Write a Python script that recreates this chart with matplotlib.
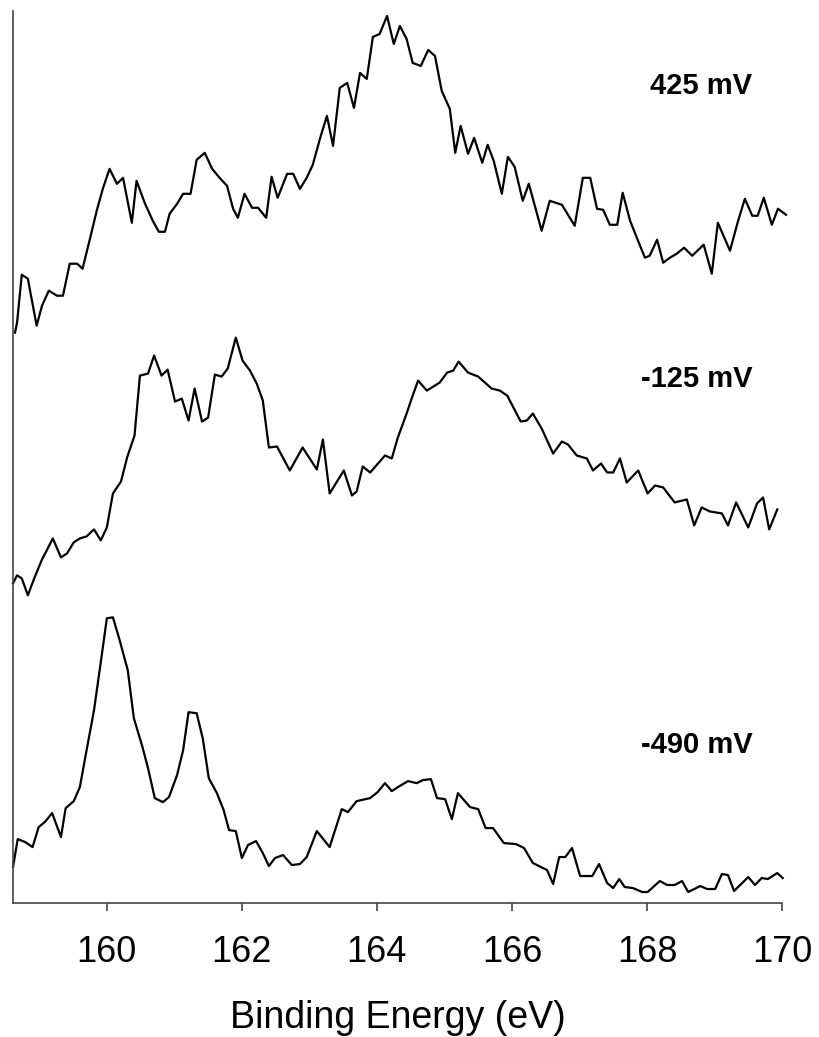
import numpy as np
import matplotlib.pyplot as plt

plt.rcParams['font.family'] = ['Liberation Sans', 'DejaVu Sans']

# S 2p spectra, stacked (intensity in a.u., offsets already included)
be_425 = [158.64, 158.67, 158.74, 158.83, 158.96, 159.04, 159.14, 159.26, 159.35, 159.45,
          159.56, 159.64, 159.75, 159.85, 159.94, 160.04, 160.15, 160.24, 160.37, 160.44,
          160.56, 160.68, 160.77, 160.86, 160.93, 161.04, 161.13, 161.24, 161.33, 161.45,
          161.56, 161.67, 161.78, 161.87, 161.94, 162.04, 162.15, 162.24, 162.36, 162.44,
          162.53, 162.67, 162.76, 162.86, 162.96, 163.05, 163.16, 163.26, 163.35, 163.45,
          163.56, 163.66, 163.75, 163.85, 163.94, 164.04, 164.15, 164.25, 164.34, 164.44,
          164.53, 164.65, 164.76, 164.86, 164.96, 165.08, 165.16, 165.24, 165.35, 165.44,
          165.56, 165.64, 165.73, 165.85, 165.94, 166.04, 166.16, 166.25, 166.44, 166.56,
          166.74, 166.93, 167.05, 167.16, 167.26, 167.35, 167.45, 167.56, 167.64, 167.75,
          167.85, 167.97, 168.04, 168.15, 168.24, 168.34, 168.44, 168.55, 168.67, 168.84,
          168.96, 169.05, 169.23, 169.35, 169.45, 169.56, 169.64, 169.73, 169.85, 169.94,
          170.06]
int_425 = [570, 580, 628, 624, 577, 597, 612, 607, 607, 639,
           639, 634, 664, 692, 714, 734, 719, 725, 680, 722,
           700, 682, 671, 671, 689, 699, 709, 709, 743, 750,
           734, 725, 717, 694, 685, 709, 695, 695, 685, 726,
           705, 729, 729, 714, 725, 738, 765, 787, 757, 815,
           820, 795, 830, 824, 866, 869, 887, 859, 877, 864,
           840, 837, 853, 847, 812, 794, 750, 777, 749, 765,
           740, 758, 742, 709, 746, 736, 702, 719, 672, 702,
           698, 677, 725, 725, 694, 693, 678, 678, 710, 682,
           665, 645, 647, 663, 640, 645, 649, 655, 647, 658,
           629, 680, 652, 682, 704, 687, 687, 705, 678, 694,
           688]

be_125 = [158.61, 158.67, 158.74, 158.83, 158.93, 159.04, 159.11, 159.20, 159.32, 159.41,
          159.51, 159.60, 159.70, 159.81, 159.91, 160.00, 160.09, 160.21, 160.30, 160.41,
          160.49, 160.61, 160.70, 160.81, 160.90, 161.01, 161.11, 161.21, 161.30, 161.41,
          161.50, 161.60, 161.70, 161.79, 161.91, 162.01, 162.12, 162.22, 162.31, 162.40,
          162.52, 162.71, 162.90, 163.11, 163.20, 163.30, 163.51, 163.63, 163.70, 163.79,
          163.90, 164.12, 164.22, 164.31, 164.44, 164.52, 164.61, 164.74, 164.93, 165.04,
          165.13, 165.21, 165.35, 165.50, 165.70, 165.82, 165.93, 166.13, 166.22, 166.31,
          166.44, 166.61, 166.74, 166.83, 166.96, 167.11, 167.20, 167.32, 167.41, 167.50,
          167.60, 167.70, 167.87, 168.01, 168.12, 168.24, 168.41, 168.59, 168.70, 168.81,
          168.93, 169.11, 169.20, 169.32, 169.50, 169.63, 169.72, 169.81, 169.93]
int_125 = [319, 327, 324, 307, 325, 343, 352, 364, 345, 349,
           360, 364, 366, 373, 362, 375, 409, 421, 445, 467,
           527, 529, 547, 527, 533, 501, 504, 482, 514, 481,
           485, 528, 526, 534, 565, 542, 532, 519, 502, 455,
           456, 432, 455, 433, 463, 409, 432, 407, 411, 436,
           430, 447, 444, 465, 489, 505, 522, 512, 520, 530,
           532, 541, 530, 526, 514, 512, 507, 481, 482, 489,
           474, 449, 461, 458, 447, 444, 432, 439, 430, 430,
           444, 420, 432, 409, 417, 415, 400, 403, 377, 395,
           391, 389, 377, 400, 375, 399, 405, 373, 393]

be_490 = [158.61, 158.68, 158.79, 158.90, 158.99, 159.08, 159.19, 159.32, 159.39, 159.51,
          159.60, 159.70, 159.81, 159.91, 160.00, 160.09, 160.19, 160.31, 160.40, 160.52,
          160.61, 160.71, 160.83, 160.92, 161.04, 161.13, 161.21, 161.33, 161.42, 161.51,
          161.63, 161.73, 161.81, 161.91, 162.00, 162.09, 162.21, 162.31, 162.40, 162.49,
          162.61, 162.74, 162.86, 162.96, 163.11, 163.30, 163.48, 163.57, 163.70, 163.90,
          164.01, 164.12, 164.22, 164.31, 164.46, 164.59, 164.68, 164.80, 164.89, 165.01,
          165.11, 165.20, 165.38, 165.50, 165.61, 165.72, 165.88, 166.06, 166.18, 166.31,
          166.52, 166.61, 166.70, 166.79, 166.89, 167.01, 167.19, 167.29, 167.41, 167.50,
          167.59, 167.67, 167.79, 167.93, 168.01, 168.19, 168.30, 168.41, 168.52, 168.61,
          168.79, 168.89, 169.01, 169.11, 169.20, 169.29, 169.50, 169.60, 169.70, 169.79,
          169.93, 170.01]
int_490 = [35, 63, 60, 55, 75, 80, 89, 65, 94, 101,
           115, 152, 192, 240, 284, 285, 262, 232, 184, 157,
           134, 104, 100, 105, 127, 152, 190, 189, 164, 124,
           109, 92, 72, 71, 44, 57, 61, 49, 36, 44,
           47, 37, 38, 45, 71, 55, 93, 90, 101, 104,
           110, 119, 111, 115, 121, 119, 122, 123, 104, 103,
           83, 109, 95, 93, 74, 74, 59, 58, 54, 39,
           32, 18, 45, 45, 54, 26, 26, 38, 19, 14,
           23, 15, 14, 10, 10, 21, 17, 17, 21, 10,
           16, 13, 13, 28, 27, 11, 25, 17, 24, 23,
           29, 24]

labels = ['425 mV', '-125 mV', '-490 mV']
label_y = [817, 524, 157]

fig = plt.figure(figsize=(8.19, 10.37), dpi=100)
ax = fig.add_axes([13 / 819, 1 - 903 / 1037, 769 / 819, 892 / 1037])

for be, inten in [(be_425, int_425), (be_125, int_125), (be_490, int_490)]:
    ax.plot(be, inten, color='black', lw=1.6, clip_on=False)

for lab, yy in zip(labels, label_y):
    ax.text(169.56, yy, lab, ha='right', va='center', fontsize=21, fontweight='bold')

ax.set_xlim(158.61, 170)
ax.set_ylim(-1, 892)
ax.set_xticks(np.arange(160, 171, 2))
ax.set_yticks([])
ax.spines['top'].set_visible(False)
ax.spines['right'].set_visible(False)
for s in ['left', 'bottom']:
    ax.spines[s].set_color('#444444')
    ax.spines[s].set_linewidth(1.2)
ax.tick_params(axis='x', direction='out', length=6, width=1.2, color='#444444',
               labelsize=26, pad=17)
ax.set_xlabel('Binding Energy (eV)', fontsize=27, labelpad=22)

fig.savefig('out.png', dpi=100)
